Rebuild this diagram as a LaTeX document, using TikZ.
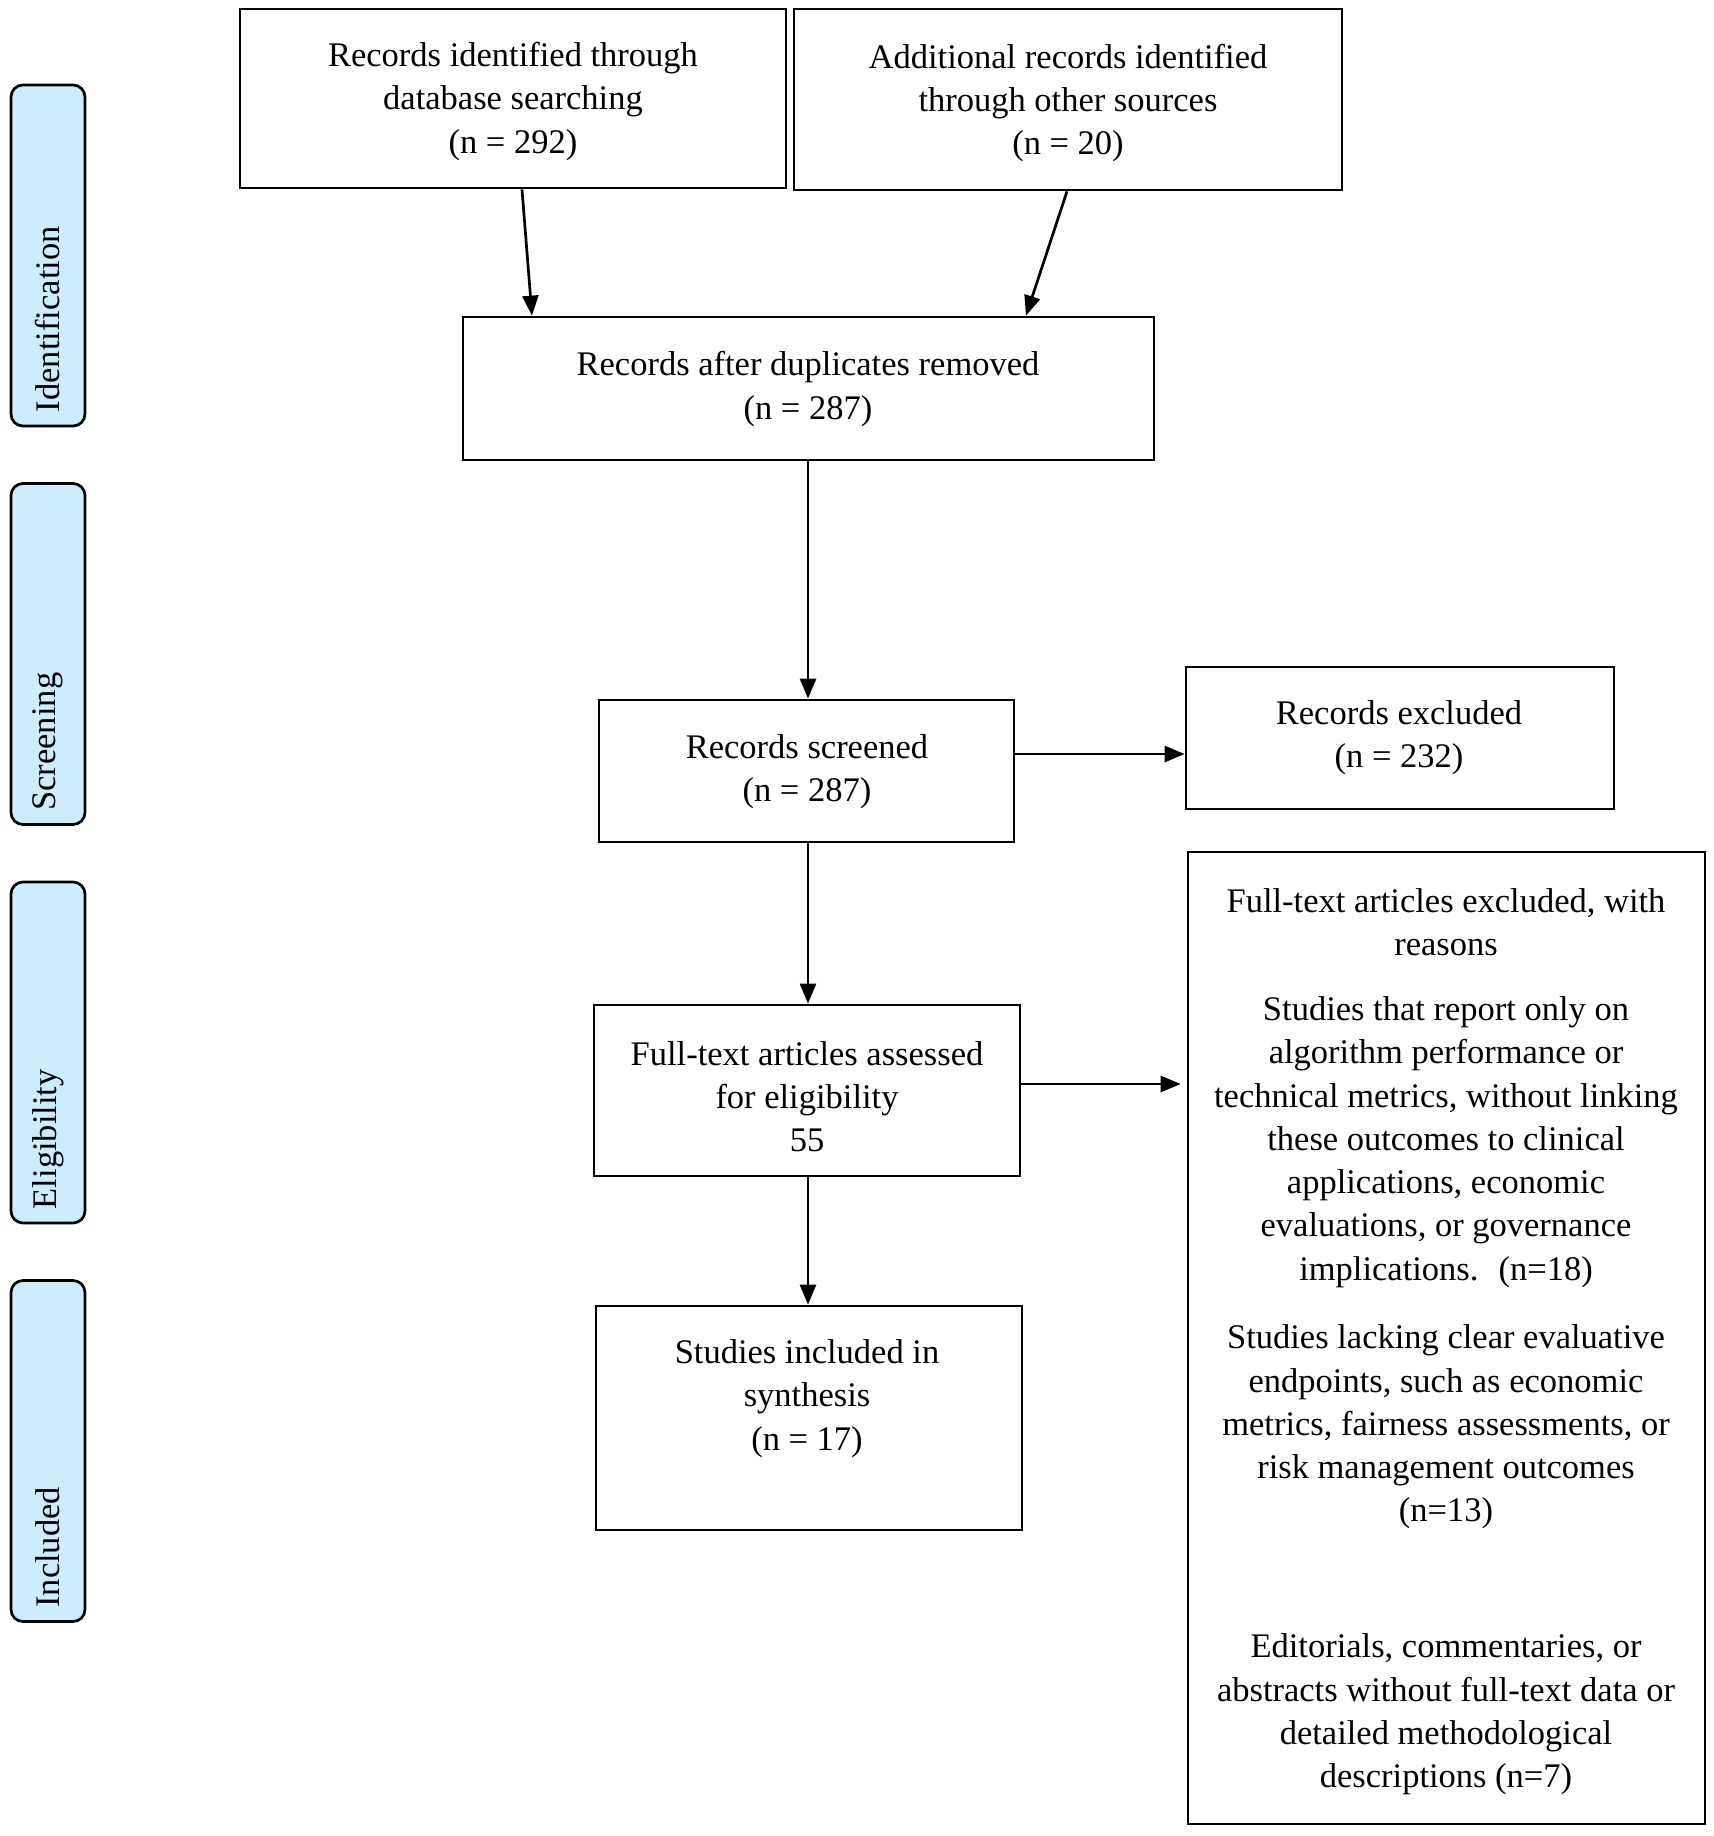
\documentclass[tikz,border=0pt]{standalone}
\usepackage{fontspec}
\setmainfont{Liberation Serif}
\usetikzlibrary{arrows.meta,calc}
\definecolor{phaseblue}{RGB}{204,236,255}
\begin{document}
\begin{tikzpicture}[x=1pt,y=-1pt,
  box/.style={draw, line width=2.7pt, inner sep=0pt},
  txt/.style={align=center, font=\fontsize{34.5}{43.3}\selectfont, inner sep=0pt},
  phase/.style={draw, line width=2.7pt, rounded corners=12pt, fill=phaseblue, inner sep=0pt, minimum width=74pt, minimum height=341pt},
  phasetxt/.style={rotate=90, anchor=west, inner sep=0pt, font=\fontsize{34.5}{43.3}\selectfont},
  arr/.style={line width=2.7pt, -{Triangle[length=20pt,width=16pt]}}]
\useasboundingbox (0,0) rectangle (1713,1836);
\fill[white] (0,0) rectangle (1713,1836);

% phase labels
\node[phase] (pid) at (48,255.5) {};
\node[phase] (psc) at (48,654) {};
\node[phase] (pel) at (48,1052.5) {};
\node[phase] (pin) at (48,1451) {};
\node[phasetxt] (tid) at ($(pid.south)+(0,-15)$) {Identification};
\node[phasetxt] (tsc) at ($(psc.south)+(0,-15)$) {Screening};
\node[phasetxt] (tel) at ($(pel.south)+(0,-15)$) {Eligibility};
\node[phasetxt] (tin) at ($(pin.south)+(0,-15)$) {Included};

% boxes
\node[box, minimum width=546pt, minimum height=179pt] (b1) at (513,98.5) {};
\node[box, minimum width=548pt, minimum height=181pt] (b2) at (1068,99.5) {};
\node[box, minimum width=691pt, minimum height=143pt] (b3) at (808.5,388.5) {};
\node[box, minimum width=415pt, minimum height=142pt] (sc) at (806.5,771) {};
\node[box, minimum width=428pt, minimum height=142pt] (ex) at (1400,738) {};
\node[box, minimum width=426pt, minimum height=171pt] (ft) at (807,1090.5) {};
\node[box, minimum width=426pt, minimum height=224pt] (inc) at (809,1418) {};
\node[box, minimum width=517pt, minimum height=972pt] (big) at (1446.5,1338) {};

% texts
\node[txt] (t1) at (513,101.5) {Records identified through\\database searching\\(n = 292)};
\node[txt] (t2) at (1068,103) {Additional records identified\\through other sources\\(n = 20)};
\node[txt] (t3) at (808,389) {Records after duplicates removed\\(n = 287)};
\node[txt] (t4) at (807,771.5) {Records screened\\(n = 287)};
\node[txt] (t5) at (1399,737.5) {Records excluded\\(n = 232)};
\node[txt] (t6) at (807,1096.5) {Full-text articles assessed\\for eligibility\\55};
\node[txt] (t7) at (807,1398.5) {Studies included in\\synthesis\\(n = 17)};
\node[txt] (r0) at (1446,922) {Full-text articles excluded, with\\reasons};
\node[txt] (r1) at (1446,1142) {Studies that report only on\\algorithm performance or\\technical metrics, without linking\\these outcomes to clinical\\applications, economic\\evaluations, or governance\\implications.~ (n=18)};
\node[txt] (r2) at (1446,1427) {Studies lacking clear evaluative\\endpoints, such as economic\\metrics, fairness assessments, or\\risk management outcomes\\(n=13)};
\node[txt] (r3) at (1446,1714.5) {Editorials, commentaries, or\\abstracts without full-text data or\\detailed methodological\\descriptions (n=7)};

% connectors
\draw[arr] ([xshift=9pt]b1.south) -- ([xshift=-276.5pt]b3.north);
\draw[arr] ([xshift=-1pt]b2.south) -- ([xshift=217.5pt]b3.north);
\draw[arr] (b3.south -| 808,0) -- (sc.north -| 808,0);
\draw[arr] (sc.south -| 808,0) -- (ft.north -| 808,0);
\draw[arr] (ft.south -| 808,0) -- (inc.north -| 808,0);
\draw[arr] (sc.east |- 0,754) -- (ex.west |- 0,754);
\draw[arr] (ft.east |- 0,1084) -- ([xshift=-6pt]big.west |- 0,1084);
\end{tikzpicture}
\end{document}
